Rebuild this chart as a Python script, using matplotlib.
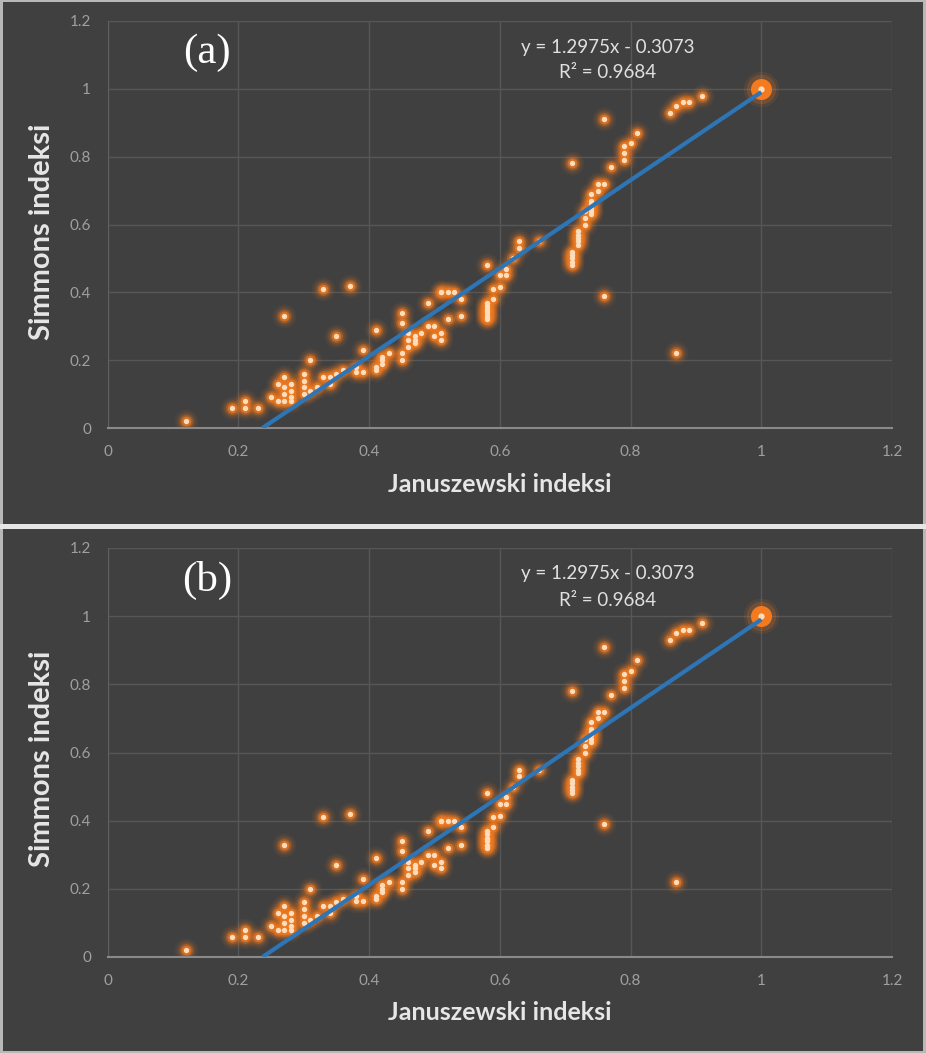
import numpy as np
import matplotlib.pyplot as plt
from matplotlib.patches import Rectangle

# Januszewski vs Simmons index values
janus = [0.12, 0.19, 0.21, 0.21, 0.23, 0.25, 0.26, 0.26, 0.27, 0.27, 0.27, 0.27,
         0.27, 0.28, 0.28, 0.28, 0.28, 0.30, 0.30, 0.30, 0.30, 0.31, 0.31, 0.32,
         0.33, 0.33, 0.34, 0.34, 0.35, 0.35, 0.36, 0.37, 0.38, 0.38, 0.39, 0.39,
         0.41, 0.41, 0.41, 0.42, 0.42, 0.43, 0.45, 0.45, 0.45, 0.45, 0.46, 0.46,
         0.46, 0.47, 0.47, 0.48, 0.49, 0.49, 0.50, 0.50, 0.51, 0.51, 0.51, 0.52,
         0.52, 0.53, 0.54, 0.54, 0.58, 0.58, 0.58, 0.58, 0.58, 0.58, 0.58, 0.59,
         0.59, 0.60, 0.60, 0.61, 0.61, 0.62, 0.63, 0.63, 0.66, 0.71, 0.71, 0.71,
         0.71, 0.72, 0.72, 0.72, 0.73, 0.73, 0.74, 0.74, 0.74, 0.74, 0.75, 0.75,
         0.76, 0.76, 0.76, 0.77, 0.79, 0.79, 0.79, 0.80, 0.81, 0.86, 0.87, 0.88,
         0.89, 0.91, 0.87, 0.58, 0.58, 0.71, 0.71, 0.72, 0.72, 0.74, 0.74, 0.73,
         0.51, 0.47, 0.42]
simmons = [0.02, 0.06, 0.08, 0.06, 0.06, 0.09, 0.13, 0.08, 0.15, 0.12, 0.10, 0.08,
           0.33, 0.13, 0.11, 0.09, 0.08, 0.16, 0.14, 0.12, 0.10, 0.20, 0.11, 0.12,
           0.15, 0.41, 0.15, 0.13, 0.16, 0.27, 0.17, 0.42, 0.165, 0.18, 0.165, 0.23,
           0.29, 0.18, 0.17, 0.19, 0.20, 0.22, 0.34, 0.31, 0.22, 0.20, 0.24, 0.26,
           0.28, 0.25, 0.27, 0.28, 0.37, 0.30, 0.30, 0.27, 0.28, 0.26, 0.40, 0.40,
           0.32, 0.40, 0.38, 0.33, 0.32, 0.33, 0.34, 0.35, 0.36, 0.37, 0.48, 0.38,
           0.41, 0.415, 0.45, 0.45, 0.47, 0.50, 0.53, 0.55, 0.55, 0.48, 0.50, 0.52,
           0.78, 0.54, 0.56, 0.58, 0.62, 0.64, 0.63, 0.65, 0.67, 0.69, 0.70, 0.72,
           0.72, 0.91, 0.39, 0.77, 0.79, 0.81, 0.83, 0.84, 0.87, 0.93, 0.95, 0.96,
           0.96, 0.98, 0.22, 0.325, 0.345, 0.49, 0.51, 0.55, 0.57, 0.64, 0.66, 0.60,
           0.40, 0.26, 0.21]
big_x = [1.0]
big_y = [1.0]

slope = 1.2975
intercept = -0.3073
r2 = 0.9684
panel_tags = ["(a)", "(b)"]

W, H = 926, 1053
BG = "#404040"
ORANGE = "#ee7a22"

fig = plt.figure(figsize=(W / 100, H / 100), dpi=100, facecolor="#b8b8b8")

def fx(px):
    return px / W

def fy(py):
    return 1 - py / H

# dark panel backgrounds and white separator
for top, bot in [(2, 524), (529, 1051)]:
    fig.patches.append(Rectangle((fx(3), fy(bot)), fx(920), (bot - top) / H,
                                 transform=fig.transFigure, facecolor=BG,
                                 edgecolor="none", zorder=-2))
fig.patches.append(Rectangle((0, fy(529)), 1, 5 / H, transform=fig.transFigure,
                             facecolor="#e6e6e6", edgecolor="none", zorder=-2))

# plot area pixel boxes (top of 1.2 line, bottom at 0)
boxes = [(21, 428), (548, 957)]
left, right = 107.7, 892

for k, (top, bot) in enumerate(boxes):
    ax = fig.add_axes([fx(left), fy(bot), fx(right - left), (bot - top) / H])
    ax.set_zorder(1)
    ax.set_facecolor(BG)
    ax.set_xlim(0, 1.2)
    ax.set_ylim(0, 1.2)
    ticks = np.round(np.arange(0, 1.21, 0.2), 1)
    ax.set_xticks(ticks)
    ax.set_yticks(ticks)
    lbls = ["0", "0.2", "0.4", "0.6", "0.8", "1", "1.2"]
    ax.set_xticklabels(lbls)
    ax.set_yticklabels(lbls)
    ax.tick_params(length=0, colors="#a0a0a0", labelsize=11, pad=12)
    for t in ax.get_xticklabels() + ax.get_yticklabels():
        t.set_fontfamily("Lato")
    ax.grid(True, color="#575757", linewidth=1)
    ax.set_axisbelow(True)
    for s in ["top", "right"]:
        ax.spines[s].set_visible(False)
    ax.spines["left"].set_color("#5f5f5f")
    ax.spines["bottom"].set_color("#8a8a8a")
    ax.spines["bottom"].set_linewidth(1.5)

    # glowing markers: soft layered halo, pale centre
    for size, alpha in [(300, 0.06), (210, 0.09), (140, 0.16), (90, 0.3), (50, 0.7)]:
        ax.scatter(janus, simmons, s=size, color=ORANGE, alpha=alpha,
                   linewidths=0, zorder=2)
    ax.scatter(janus, simmons, s=15, color="#ffdcba", linewidths=0, zorder=4)
    for size, alpha in [(650, 0.1), (450, 0.2)]:
        ax.scatter(big_x, big_y, s=size, color=ORANGE, alpha=alpha,
                   linewidths=0, zorder=3)
    ax.scatter(big_x, big_y, s=230, color="#f47a20", linewidths=0, zorder=4)
    ax.scatter(big_x, big_y, s=20, color="#ffdcba", linewidths=0, zorder=5)

    # linear trendline
    x0 = -intercept / slope
    xs = np.array([x0, 1.0])
    ax.plot(xs, slope * xs + intercept, color="#2e75b6", linewidth=3,
            solid_capstyle="butt", zorder=6)

    off = top - 21
    fig.text(fx(207), fy(53 + off), panel_tags[k], color="white", fontsize=31,
             family="Liberation Serif", ha="center", va="center", zorder=3)
    fig.text(fx(608), fy(47 + off), f"y = {slope}x - {abs(intercept)}",
             color="#e0e0e0", fontsize=13.5, family="Lato", ha="center",
             va="center", zorder=3)
    fig.text(fx(608), fy(73 + off), f"R² = {r2}",
             color="#e0e0e0", fontsize=13.5, family="Lato", ha="center",
             va="center", zorder=3)
    fig.text(fx(500), fy(485 + off), "Januszewski indeksi", color="#e6e6e6",
             fontsize=18, fontweight="bold", family="Lato", ha="center",
             va="center", zorder=3)
    fig.text(fx(42), fy(232 + off), "Simmons indeksi", color="#e6e6e6",
             fontsize=21, fontweight="bold", family="Lato", rotation=90,
             ha="center", va="center", zorder=3)

fig.savefig("out.png", dpi=100, facecolor=fig.get_facecolor())
